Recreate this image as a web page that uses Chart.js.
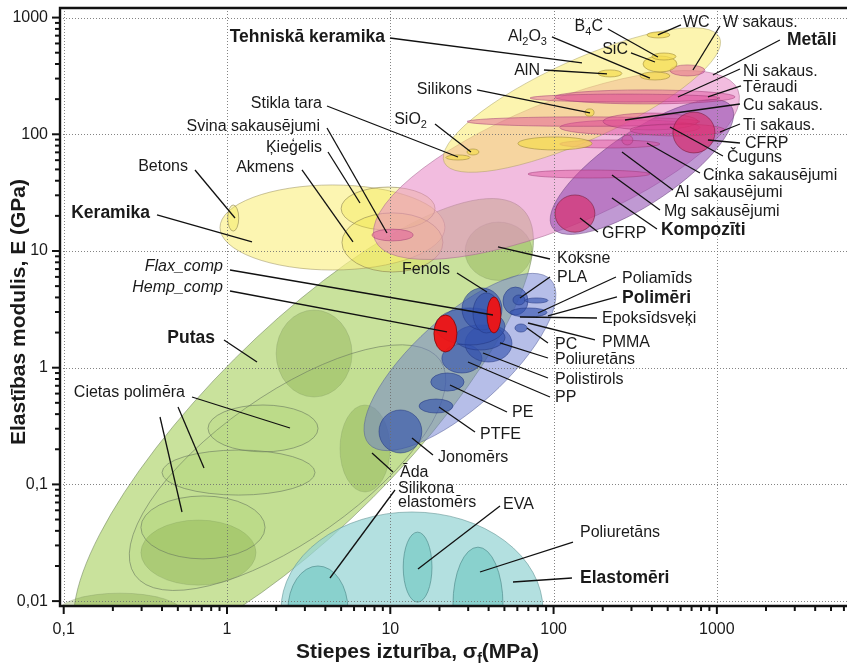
<!DOCTYPE html>
<html>
<head>
<meta charset="utf-8">
<script src="https://cdn.jsdelivr.net/npm/chart.js@4.4.1/dist/chart.umd.min.js"></script>
<style>
  html, body { margin: 0; padding: 0; background: #fff; }
  #wrap { width: 847px; height: 667px; }
</style>
</head>
<body>
<div id="wrap"><canvas id="c" width="847" height="667"></canvas></div>
<script>
// ---- Axis ranges (σ in MPa, E in GPa) ----
const X_MIN = 0.0949, X_MAX = 6266;
const Y_MIN = 0.00908, Y_MAX = 1208;
const xDecades = [0.1, 1, 10, 100, 1000];
const yDecades = [0.01, 0.1, 1, 10, 100, 1000];

// ---- Family envelopes: major-axis end points [σ, E] and width/length ratio ----
const envelopeNames = ['Putas', 'Cietas polimēra putas', 'Metāli', 'Tehniskā keramika', 'Kompozīti', 'Polimēri'];
const envelopeFrom  = [[0.134, 0.0040], [0.273, 0.0167], [8.06, 12.4], [21.4, 57.4], [98.4, 15.9], [7.4, 0.222]];
const envelopeTo    = [[64.7, 22.8], [20.2, 1.16], [1346, 240], [1039, 674], [1228, 173], [96.4, 5.64]];
const envelopeRatio = [0.316, 0.39, 0.316, 0.265, 0.333, 0.37];

// ---- Range envelopes [σmin, σmax, Emin, Emax] ----
const ceramicsRange   = [0.906, 21.6, 6.87, 36.8];
const elastomersRange = [2.14, 86.1, 0.00121, 0.058];

// ---- Foams ----
const foamNames  = ['Putas A', 'Koksne', 'Āda', 'Cietas putas A', 'Elastomēru putas'];
const foamRanges = [[2.0, 5.83, 0.561, 3.12], [28.7, 73.8, 5.6, 17.7], [4.92, 9.96, 0.0861, 0.479],
                    [0.297, 1.505, 0.0137, 0.0495], [0.0923, 0.53, 0.00553, 0.0117]];
const rigidFoamNames  = ['Cietas putas B', 'Cietas putas C', 'Cietas putas D'];
const rigidFoamRanges = [[0.765, 3.61, 0.19, 0.479], [0.40, 3.46, 0.081, 0.197], [0.297, 1.71, 0.023, 0.0796]];

// ---- Non-technical ceramics ----
const ceramicNames  = ['Ķieģelis', 'Akmens', 'Betons'];
const ceramicRanges = [[5.0, 18.8, 15.1, 35.3], [5.06, 21.0, 6.61, 21.2], [1.01, 1.18, 14.8, 24.8]];

// ---- Technical ceramics and glasses ----
const techNames  = ['Stikla tara', 'SiO2', 'AlN', 'Al2O3', 'SiC', 'B4C', 'WC', 'Silikons', 'Stikla keramika'];
const techRanges = [[21.9, 30.8, 60.2, 66.5], [29.5, 34.9, 66.5, 74.8], [187, 262, 310, 356],
                    [338, 516, 292, 342], [353, 570, 342, 469], [400, 562, 433, 497],
                    [373, 516, 669, 753], [156, 177, 143, 165], [60.5, 172, 73.4, 94.8]];

// ---- Metals ----
const metalNames  = ['Svina sakausējumi', 'W sakaus.', 'Tēraudi', 'Ni sakaus.', 'Čuguns', 'Cu sakaus. A', 'Cu sakaus.',
                     'Ti sakaus.', 'Al sakausējumi', 'Cinka sakausējumi', 'Mg sakausējumi'];
const metalRanges = [[7.73, 13.8, 12.2, 15.4], [516, 845, 316, 393], [102, 1291, 182, 240], [71.7, 1045, 189, 221],
                     [109, 788, 98.6, 133], [29.5, 788, 117, 141], [201, 766, 109, 152],
                     [294, 1121, 96.7, 122.5], [109, 448, 76.3, 89.4], [262, 306, 81, 98.6], [69.7, 389, 42.2, 49.4]];

// ---- Composites ----
const compositeNames  = ['CFRP', 'GFRP'];
const compositeRanges = [[538, 973, 69.2, 155], [102, 179, 14.5, 30.2]];

// ---- Polymers ----
const polymerNames  = ['Jonomērs', 'PTFE', 'PE', 'PP', 'Polistirols', 'Poliuretāns', 'Polimēri B', 'Fenols',
                       'Polimēri C', 'PLA B', 'PLA', 'Poliamīds', 'Epoksīdsveķi', 'PC'];
const polymerRanges = [[8.53, 15.6, 0.186, 0.434], [15.0, 24.2, 0.409, 0.539], [17.7, 28.3, 0.631, 0.901],
                       [20.7, 36.4, 0.901, 1.596], [28.7, 55.6, 1.119, 2.32], [24.9, 50.4, 1.418, 2.32],
                       [18.8, 50.4, 1.565, 3.25], [27.5, 48.3, 2.104, 4.82], [32.1, 47.0, 1.983, 4.37],
                       [49.0, 69.7, 2.83, 4.91], [56.4, 66.8, 3.45, 4.2], [66.8, 92.4, 3.58, 3.96],
                       [54.1, 91.1, 2.72, 3.25], [58.0, 68.7, 2.02, 2.37]];

// ---- Natural fibre composites ----
const fibreNames  = ['Hemp_comp', 'Flax_comp'];
const fibreRanges = [[18.5, 25.6, 1.363, 2.83], [39.1, 47.6, 1.983, 4.04]];

// ---- Elastomers ----
const elastomerNames  = ['Silikona elastomērs', 'EVA', 'Poliuretāns'];
const elastomerRanges = [[2.36, 5.51, 0.0035, 0.020], [12.0, 18.0, 0.0098, 0.039], [24.2, 49.0, 0.003, 0.029]];

// ---- Callouts: positions as [log10 σ, log10 E]; al = text alignment ----
const callouts = [
  { t: 'Tehniskā keramika', b: 1, at: [0.9675, 2.834], al: 'right', lines: [[[0.998, 2.825], [2.174, 2.611]]] },
  { t: 'Al{2}O{3}', at: [1.9596, 2.834], al: 'right', lines: [[[1.990, 2.834], [2.590, 2.482]]] },
  { t: 'AlN', at: [1.9167, 2.5424], al: 'right', lines: [[[1.941, 2.551], [2.327, 2.517]]] },
  { t: 'B{4}C', at: [2.3025, 2.919], al: 'right', lines: [[[2.333, 2.902], [2.639, 2.662]]] },
  { t: 'SiC', at: [2.4556, 2.722], al: 'right', lines: [[[2.474, 2.6967], [2.621, 2.6195]]] },
  { t: 'WC', at: [2.7924, 2.954], al: 'left', lines: [[[2.780, 2.937], [2.639, 2.851]]] },
  { t: 'W sakaus.', at: [3.0373, 2.954], al: 'left', lines: [[[3.019, 2.928], [2.8536, 2.551]]] },
  { t: 'Metāli', b: 1, at: [3.429, 2.808], al: 'left', lines: [[[3.386, 2.808], [2.976, 2.508]]] },
  { t: 'Silikons', at: [1.5003, 2.3796], al: 'right', lines: [[[1.531, 2.3796], [2.223, 2.1825]]] },
  { t: 'SiO{2}', at: [1.2247, 2.1225], al: 'right', lines: [[[1.2737, 2.0883], [1.494, 1.848]]] },
  { t: 'Stikla tara', at: [0.5817, 2.2596], al: 'right', lines: [[[0.6124, 2.2425], [1.4146, 1.8055]]] },
  { t: 'Svina sakausējumi', at: [0.5695, 2.0626], al: 'right', lines: [[[0.6124, 2.054], [0.9798, 1.154]]] },
  { t: 'Ķieģelis', at: [0.5817, 1.8826], al: 'right', lines: [[[0.6185, 1.848], [0.8144, 1.4113]]] },
  { t: 'Akmens', at: [0.4103, 1.7112], al: 'right', lines: [[[0.4593, 1.694], [0.7716, 1.0771]]] },
  { t: 'Betons', at: [-0.2388, 1.7198], al: 'right', lines: [[[-0.196, 1.694], [0.049, 1.2828]]] },
  { t: 'Keramika', b: 1, at: [-0.4715, 1.3256], al: 'right', lines: [[[-0.4287, 1.3085], [0.1531, 1.0771]]] },
  { t: 'Koksne', at: [2.0208, 0.9314], al: 'left', lines: [[[1.978, 0.9314], [1.6595, 1.0343]]] },
  { t: 'PLA', at: [2.0208, 0.7686], al: 'left', lines: [[[1.978, 0.7772], [1.794, 0.5973]]] },
  { t: 'Fenols', at: [1.3656, 0.8372], al: 'right', lines: [[[1.4084, 0.8115], [1.592, 0.6487]]] },
  { t: 'Flax_comp', i: 1, at: [-0.0245, 0.8629], al: 'right', lines: [[[0.0184, 0.8372], [1.6289, 0.4516]]] },
  { t: 'Hemp_comp', i: 1, at: [-0.0245, 0.683], al: 'right', lines: [[[0.0184, 0.6572], [1.3472, 0.306]]] },
  { t: 'Putas', b: 1, at: [-0.0735, 0.2545], al: 'right', lines: [[[-0.0184, 0.2374], [0.1837, 0.0488]]] },
  { t: 'Cietas polimēra', at: [-0.2572, -0.2168], al: 'right', lines: [
      [[-0.2143, -0.2511], [0.3858, -0.5167]], [[-0.30, -0.3368], [-0.1408, -0.8595]], [[-0.4103, -0.4225], [-0.2756, -1.2365]]] },
  { t: 'Āda', at: [1.0594, -0.9023], al: 'left', lines: [[[1.0165, -0.8937], [0.8879, -0.731]]] },
  { t: 'Jonomērs', at: [1.2921, -0.7738], al: 'left', lines: [[[1.2615, -0.748], [1.1329, -0.6024]]] },
  { t: 'PTFE', at: [1.5493, -0.5767], al: 'left', lines: [[[1.5187, -0.551], [1.2982, -0.3368]]] },
  { t: 'PE', at: [1.7452, -0.3882], al: 'left', lines: [[[1.7146, -0.3796], [1.3656, -0.1482]]] },
  { t: 'PP', at: [2.0086, -0.2596], al: 'left', lines: [[[1.978, -0.2511], [1.4758, 0.0488]]] },
  { t: 'Polistirols', at: [2.0086, -0.1054], al: 'left', lines: [[[1.9657, -0.0883], [1.5677, 0.126]]] },
  { t: 'Poliuretāns', at: [2.0086, 0.066], al: 'left', lines: [[[1.9657, 0.0831], [1.6718, 0.2117]]] },
  { t: 'PC', at: [2.0086, 0.1945], al: 'left', lines: [[[1.9657, 0.2117], [1.8371, 0.3402]]] },
  { t: 'PMMA', at: [2.2964, 0.2117], al: 'left', lines: [[[2.2535, 0.2374], [1.8432, 0.383]]] },
  { t: 'Epoksīdsveķi', at: [2.2964, 0.4173], al: 'left', lines: [[[2.2658, 0.4259], [1.794, 0.4344]]] },
  { t: 'Polimēri', b: 1, at: [2.4189, 0.5973], al: 'left', lines: [[[2.3882, 0.6058], [1.9657, 0.443]]] },
  { t: 'Poliamīds', at: [2.4189, 0.7601], al: 'left', lines: [[[2.3821, 0.7772], [1.9045, 0.4687]]] },
  { t: 'Ni sakaus.', at: [3.1598, 2.5338], al: 'left', lines: [[[3.1415, 2.5596], [2.7618, 2.3196]]] },
  { t: 'Tēraudi', at: [3.1598, 2.3967], al: 'left', lines: [[[3.1476, 2.4139], [2.9455, 2.3196]]] },
  { t: 'Cu sakaus.', at: [3.1598, 2.2425], al: 'left', lines: [[[3.1415, 2.2596], [2.4372, 2.1225]]] },
  { t: 'Ti sakaus.', at: [3.1598, 2.0711], al: 'left', lines: [[[3.1415, 2.0883], [3.019, 2.0197]]] },
  { t: 'CFRP', at: [3.172, 1.9169], al: 'left', lines: [[[3.1415, 1.9254], [2.9455, 1.9512]]] },
  { t: 'Čuguns', at: [3.0618, 1.7969], al: 'left', lines: [[[3.0373, 1.814], [2.7128, 2.0626]]] },
  { t: 'Cinka sakausējumi', at: [2.9149, 1.6427], al: 'left', lines: [[[2.8965, 1.6684], [2.572, 1.9254]]] },
  { t: 'Al sakausējumi', at: [2.7434, 1.497], al: 'left', lines: [[[2.7312, 1.5227], [2.4189, 1.848]]] },
  { t: 'Mg sakausējumi', at: [2.676, 1.3342], al: 'left', lines: [[[2.6516, 1.3513], [2.3576, 1.6512]]] },
  { t: 'Kompozīti', b: 1, at: [2.6577, 1.18], al: 'left', lines: [[[2.6332, 1.1885], [2.3576, 1.4542]]] },
  { t: 'GFRP', at: [2.2964, 1.1457], al: 'left', lines: [[[2.2719, 1.1628], [2.1617, 1.2828]]] },
  { t: 'Silikona', at: [1.0472, -1.0394], al: 'left', lines: [[[1.0288, -1.048], [0.6307, -1.802]]] },
  { t: 'elastomērs', at: [1.0472, -1.1594], al: 'left', lines: [] },
  { t: 'EVA', at: [1.6901, -1.1765], al: 'left', lines: [[[1.6718, -1.1851], [1.1696, -1.7249]]] },
  { t: 'Poliuretāns', at: [2.1617, -1.4165], al: 'left', lines: [[[2.1188, -1.4936], [1.5493, -1.7506]]] },
  { t: 'Elastomēri', b: 1, at: [2.1617, -1.802], al: 'left', lines: [[[2.1127, -1.802], [1.7514, -1.8363]]] }
];

const FONT = "'Liberation Sans', Arial, Helvetica, sans-serif";
const TEXT = '#1a1a1a';

function fmtDecade(v) { return String(v).replace('.', ','); }

// Split "Al{2}O{3}" into normal / subscript runs
function runs(text) {
  const out = []; const re = /\{([^}]*)\}/g; let last = 0, m;
  while ((m = re.exec(text))) {
    if (m.index > last) out.push([text.slice(last, m.index), false]);
    out.push([m[1], true]); last = re.lastIndex;
  }
  if (last < text.length) out.push([text.slice(last), false]);
  return out;
}
function drawRich(ctx, text, x, y, align, size, weight, style) {
  const parts = runs(text);
  const font = sub => `${style || 'normal'} ${weight || 'normal'} ${sub ? Math.round(size * 0.68) : size}px ${FONT}`;
  let w = 0;
  for (const [s, sub] of parts) { ctx.font = font(sub); w += ctx.measureText(s).width; }
  let cx = align === 'right' ? x - w : align === 'center' ? x - w / 2 : x;
  ctx.textAlign = 'left'; ctx.textBaseline = 'middle'; ctx.fillStyle = TEXT;
  for (const [s, sub] of parts) {
    ctx.font = font(sub);
    ctx.fillText(s, cx, sub ? y + size * 0.32 : y);
    cx += ctx.measureText(s).width;
  }
}

function rangeEllipse(ctx, X, Y, r, fill, stroke, lw) {
  const x1 = X(r[0]), x2 = X(r[1]), y1 = Y(r[3]), y2 = Y(r[2]);
  ctx.beginPath();
  ctx.ellipse((x1 + x2) / 2, (y1 + y2) / 2, Math.abs(x2 - x1) / 2, Math.abs(y2 - y1) / 2, 0, 0, Math.PI * 2);
  if (fill) { ctx.fillStyle = fill; ctx.fill(); }
  if (stroke) { ctx.strokeStyle = stroke; ctx.lineWidth = lw || 1; ctx.stroke(); }
}
function axisEllipse(ctx, X, Y, p, q, ratio, fill, stroke, lw) {
  const ax = X(p[0]), ay = Y(p[1]), bx = X(q[0]), by = Y(q[1]);
  const half = Math.hypot(bx - ax, by - ay) / 2;
  ctx.beginPath();
  ctx.ellipse((ax + bx) / 2, (ay + by) / 2, half, half * ratio, Math.atan2(by - ay, bx - ax), 0, Math.PI * 2);
  if (fill) { ctx.fillStyle = fill; ctx.fill(); }
  if (stroke) { ctx.strokeStyle = stroke; ctx.lineWidth = lw || 1; ctx.stroke(); }
}
function envelope(ctx, X, Y, name, fill, stroke) {
  const i = envelopeNames.indexOf(name);
  axisEllipse(ctx, X, Y, envelopeFrom[i], envelopeTo[i], envelopeRatio[i], fill, stroke, 1);
}

const ashbyPlugin = {
  id: 'ashby',
  afterDatasetsDraw(chart) {
    const { ctx, chartArea: a, scales: { x, y } } = chart;
    const X = v => x.getPixelForValue(v);
    const Y = v => y.getPixelForValue(v);

    ctx.save();
    ctx.beginPath(); ctx.rect(a.left, a.top, a.right - a.left, a.bottom - a.top); ctx.clip();

    // Foams
    envelope(ctx, X, Y, 'Putas', 'rgba(168,208,95,0.62)', 'rgba(110,130,90,0.55)');
    foamRanges.forEach(r => rangeEllipse(ctx, X, Y, r, 'rgba(120,160,55,0.32)', 'rgba(110,130,90,0.25)', 1));
    envelope(ctx, X, Y, 'Cietas polimēra putas', 'rgba(150,195,80,0.12)', 'rgba(105,120,95,0.6)');
    rigidFoamRanges.forEach(r => rangeEllipse(ctx, X, Y, r, 'rgba(150,195,80,0.14)', 'rgba(105,120,95,0.6)', 1));

    // Non-technical ceramics
    rangeEllipse(ctx, X, Y, ceramicsRange, 'rgba(250,240,140,0.68)', 'rgba(150,140,90,0.5)', 1);
    ceramicRanges.forEach(r => rangeEllipse(ctx, X, Y, r, 'rgba(240,228,70,0.35)', 'rgba(140,130,80,0.6)', 1));

    // Metals, technical ceramics, composites, polymers envelopes
    envelope(ctx, X, Y, 'Metāli', 'rgba(232,140,200,0.58)', 'rgba(160,100,140,0.5)');
    envelope(ctx, X, Y, 'Tehniskā keramika', 'rgba(250,235,110,0.55)', 'rgba(160,150,90,0.45)');
    envelope(ctx, X, Y, 'Kompozīti', 'rgba(140,70,175,0.55)', 'rgba(100,60,120,0.5)');
    envelope(ctx, X, Y, 'Polimēri', 'rgba(110,125,210,0.5)', 'rgba(80,90,150,0.5)');

    // Individual materials
    metalRanges.forEach(r => rangeEllipse(ctx, X, Y, r, 'rgba(222,70,150,0.42)', 'rgba(150,50,110,0.45)', 1));
    techRanges.forEach(r => rangeEllipse(ctx, X, Y, r, 'rgba(245,220,80,0.72)', 'rgba(160,140,60,0.6)', 1));
    compositeRanges.forEach(r => rangeEllipse(ctx, X, Y, r, 'rgba(222,40,100,0.6)', 'rgba(120,30,60,0.6)', 1));
    polymerRanges.forEach(r => rangeEllipse(ctx, X, Y, r, 'rgba(50,80,175,0.62)', 'rgba(35,55,130,0.55)', 1));
    fibreRanges.forEach(r => rangeEllipse(ctx, X, Y, r, 'rgba(240,20,20,0.95)', 'rgba(120,0,0,0.7)', 1));

    // Elastomers
    rangeEllipse(ctx, X, Y, elastomersRange, 'rgba(150,212,212,0.72)', 'rgba(100,150,150,0.6)', 1);
    elastomerRanges.forEach(r => rangeEllipse(ctx, X, Y, r, 'rgba(95,195,188,0.5)', 'rgba(70,130,130,0.6)', 1));

    // Dotted decade grid
    ctx.strokeStyle = 'rgba(110,110,110,0.85)'; ctx.lineWidth = 1; ctx.setLineDash([1, 2]);
    xDecades.forEach(v => { const px = Math.round(X(v)) + 0.5; ctx.beginPath(); ctx.moveTo(px, a.top); ctx.lineTo(px, a.bottom); ctx.stroke(); });
    yDecades.forEach(v => { const py = Math.round(Y(v)) + 0.5; ctx.beginPath(); ctx.moveTo(a.left, py); ctx.lineTo(a.right, py); ctx.stroke(); });
    ctx.setLineDash([]);
    ctx.restore();

    // Frame: left and bottom axes, top border
    ctx.save();
    ctx.strokeStyle = '#111'; ctx.lineWidth = 2.4;
    ctx.beginPath();
    ctx.moveTo(a.right, a.top); ctx.lineTo(a.left, a.top); ctx.lineTo(a.left, a.bottom); ctx.lineTo(a.right, a.bottom);
    ctx.stroke();

    // Tick marks (decades long, 2..9 short)
    ctx.lineWidth = 2;
    for (let d = -2; d <= 3; d++) {
      for (let m = 1; m <= 9; m++) {
        const v = m * Math.pow(10, d);
        if (v >= X_MIN && v <= X_MAX && d >= -1) {
          const px = X(v); ctx.beginPath(); ctx.moveTo(px, a.bottom); ctx.lineTo(px, a.bottom + (m === 1 ? 8 : 5)); ctx.stroke();
        }
        if (v >= Y_MIN && v <= Y_MAX) {
          const py = Y(v); ctx.beginPath(); ctx.moveTo(a.left, py); ctx.lineTo(a.left - (m === 1 ? 8 : 5), py); ctx.stroke();
        }
      }
    }
    ctx.restore();

    // Callouts
    ctx.save();
    ctx.strokeStyle = '#111'; ctx.lineWidth = 1.3;
    const P = v => Math.pow(10, v);
    callouts.forEach(c => {
      c.lines.forEach(([p, q]) => {
        ctx.beginPath(); ctx.moveTo(X(P(p[0])), Y(P(p[1]))); ctx.lineTo(X(P(q[0])), Y(P(q[1]))); ctx.stroke();
      });
      drawRich(ctx, c.t, X(P(c.at[0])), Y(P(c.at[1])), c.al, c.b ? 17.5 : 16, c.b ? 'bold' : 'normal', c.i ? 'italic' : 'normal');
    });

    // Axis titles
    drawRich(ctx, 'Stiepes izturība, σ{f}(MPa)', chart.width / 2 - 6, 652, 'center', 21, 'bold');
    ctx.translate(19, (a.top + a.bottom) / 2 + 5);
    ctx.rotate(-Math.PI / 2);
    drawRich(ctx, 'Elastības modulis, E (GPa)', 0, 0, 'center', 21, 'bold');
    ctx.restore();
  }
};

const decadeTicks = list => scale => { scale.ticks = list.map(v => ({ value: v })); };

new Chart(document.getElementById('c'), {
  type: 'scatter',
  data: { datasets: [] },
  options: {
    responsive: false,
    animation: false,
    devicePixelRatio: 1,
    layout: { padding: { top: 8, right: 0, bottom: 0, left: 0 } },
    plugins: { legend: { display: false }, tooltip: { enabled: false } },
    scales: {
      x: {
        type: 'logarithmic', position: 'bottom', min: X_MIN, max: X_MAX,
        grid: { display: false, drawTicks: false }, border: { display: false },
        ticks: { color: TEXT, font: { family: FONT, size: 16 }, padding: 14, autoSkip: false, maxRotation: 0,
                 callback: v => fmtDecade(v) },
        afterBuildTicks: decadeTicks(xDecades),
        afterFit: s => { s.height = 61; s.paddingLeft = 0; s.paddingRight = 0; }
      },
      y: {
        type: 'logarithmic', position: 'left', min: Y_MIN, max: Y_MAX,
        grid: { display: false, drawTicks: false }, border: { display: false },
        ticks: { color: TEXT, font: { family: FONT, size: 16 }, padding: 12, autoSkip: false,
                 callback: v => fmtDecade(v) },
        afterBuildTicks: decadeTicks(yDecades),
        afterFit: s => { s.width = 60; s.paddingTop = 0; s.paddingBottom = 0; }
      }
    }
  },
  plugins: [ashbyPlugin]
});
</script>
</body>
</html>
